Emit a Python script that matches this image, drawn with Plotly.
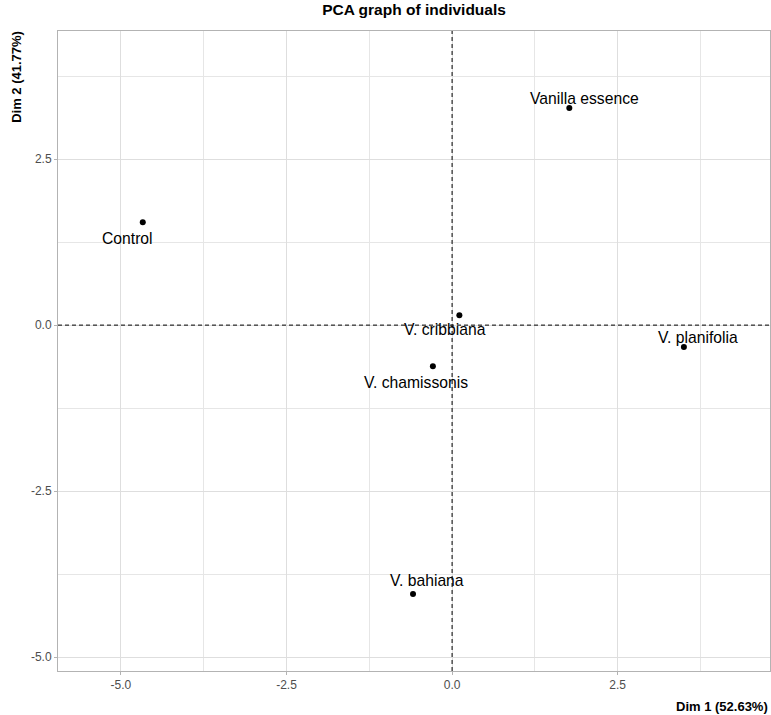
import plotly.graph_objects as go

names = ["Control", "Vanilla essence", "V. cribbiana", "V. planifolia", "V. chamissonis", "V. bahiana"]
dim1 = [-4.67, 1.77, 0.11, 3.50, -0.29, -0.59]
dim2 = [1.55, 3.27, 0.15, -0.33, -0.62, -4.05]
# label offsets in pixels (repel-like placement)
lab_dx = [-15, 15, -14, 14, -17, 14]
lab_dy = [-16, 10, -14, 10, -16, 13]

x_ticks = [-5.0, -2.5, 0.0, 2.5]
y_ticks = [-5.0, -2.5, 0.0, 2.5]
x_tick_text = ["-5.0", "-2.5", "0.0", "2.5"]
y_tick_text = ["-5.0", "-2.5", "0.0", "2.5"]

FONT = "Liberation Sans, Arial, sans-serif"

fig = go.Figure()
fig.add_trace(go.Scatter(x=dim1, y=dim2, mode="markers",
                         marker=dict(color="black", size=6), hoverinfo="text", text=names))

for n, x, y, dx, dy in zip(names, dim1, dim2, lab_dx, lab_dy):
    fig.add_annotation(x=x, y=y, text=n, showarrow=False, xshift=dx, yshift=dy,
                       font=dict(family=FONT, size=15.7, color="black"))

fig.add_shape(type="line", xref="x", yref="paper", x0=0, x1=0, y0=0, y1=1,
              line=dict(color="black", width=1, dash="4px,3px"))
fig.add_shape(type="line", xref="paper", yref="y", x0=0, x1=1, y0=0, y1=0,
              line=dict(color="black", width=1, dash="4px,3px"))

axis_common = dict(showgrid=True, gridcolor="#dedede", gridwidth=1, zeroline=False,
                   showline=True, linecolor="#b3b3b3", linewidth=1, mirror=True,
                   ticks="outside", ticklen=3, tickcolor="#b3b3b3",
                   tickfont=dict(family=FONT, size=12, color="#4d4d4d"),
                   minor=dict(showgrid=True, gridcolor="#e6e6e6", gridwidth=1, dtick=2.5, tick0=1.25))

fig.update_xaxes(range=[-5.95, 4.80], tickvals=x_ticks, ticktext=x_tick_text, **axis_common)
fig.update_yaxes(range=[-5.21, 4.43], tickvals=y_ticks, ticktext=y_tick_text, **axis_common)

fig.add_annotation(text="<b>Dim 1 (52.63%)</b>", xref="paper", yref="paper", x=1, y=-0.040,
                   xanchor="right", yanchor="top", showarrow=False,
                   font=dict(family=FONT, size=13, color="black"))
fig.add_annotation(text="<b>Dim 2 (41.77%)</b>", xref="paper", yref="paper", x=-0.046, y=1.003,
                   xanchor="right", yanchor="top", showarrow=False, textangle=-90,
                   font=dict(family=FONT, size=13, color="black"))

fig.update_layout(
    width=771, height=715,
    margin=dict(l=58, r=1, t=31, b=44),
    plot_bgcolor="white", paper_bgcolor="white",
    showlegend=False,
    title=dict(text="<b>PCA graph of individuals</b>", x=0.537, xanchor="center",
               y=1 - 10 / 715, yanchor="middle",
               font=dict(family=FONT, size=15.5, color="black")),
)

fig.write_html("out.html", config={"displayModeBar": False},
               post_script="document.body.style.margin='0';document.body.style.overflow='hidden';")
